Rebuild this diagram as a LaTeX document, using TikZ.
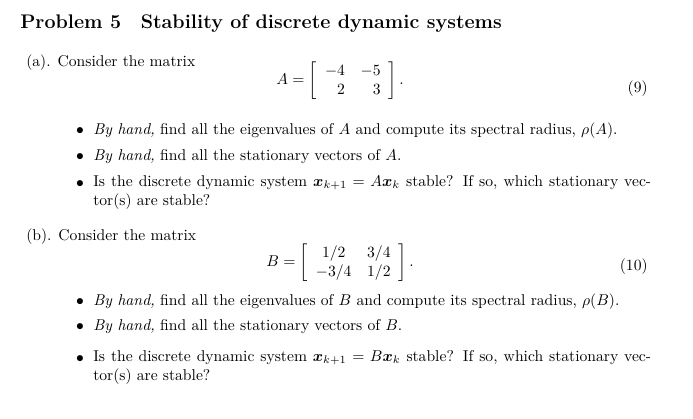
\documentclass[tikz,border=0pt]{standalone}
\usepackage{amsmath,amssymb,bm}
\begin{document}
\begin{tikzpicture}[x=0.64pt,y=-0.64pt,
  txt/.style={anchor=base west,inner sep=0pt},
  bul/.style={anchor=base,inner sep=0pt},
  para/.style={anchor=north west,inner sep=0pt,text width=357pt,align=justify}]
\useasboundingbox (0,0) rectangle (693,418);
\node[txt] (title) at (20,28) {\fontsize{12.6}{15}\selectfont\bfseries Problem 5\quad Stability of discrete dynamic systems};
\node[txt] (a) at (26,66) {(a). Consider the matrix};
\node (eqa) at (340,81) {$A=\left[\begin{array}{rr}-4&-5\\2&3\end{array}\right].$};
\node[txt,anchor=base east] (na) at (648,92) {(9)};
\node[bul] (b1) at (80,134) {$\bullet$};
\node[txt] (t1) at (93,134) {\emph{By hand,} find all the eigenvalues of $A$ and compute its spectral radius, $\rho(A)$.};
\node[bul] (b2) at (80,160) {$\bullet$};
\node[txt] (t2) at (93,160) {\emph{By hand,} find all the stationary vectors of $A$.};
\node[bul] (b3) at (80,187) {$\bullet$};
\node[para] (t3) at (93,175) {Is the discrete dynamic system $\bm{x}_{k+1}=A\bm{x}_k$ stable? If so, which stationary vector(s) are stable?};
\node[txt] (b) at (26,240) {(b). Consider the matrix};
\node (eqb) at (340,263) {$B=\left[\begin{array}{cc}1/2&3/4\\-3/4&1/2\end{array}\right].$};
\node[txt,anchor=base east] (nb) at (648,270) {(10)};
\node[bul] (c1) at (80,305) {$\bullet$};
\node[txt] (u1) at (93,305) {\emph{By hand,} find all the eigenvalues of $B$ and compute its spectral radius, $\rho(B)$.};
\node[bul] (c2) at (80,330) {$\bullet$};
\node[txt] (u2) at (93,330) {\emph{By hand,} find all the stationary vectors of $B$.};
\node[bul] (c3) at (80,362) {$\bullet$};
\node[para] (u3) at (93,350) {Is the discrete dynamic system $\bm{x}_{k+1}=B\bm{x}_k$ stable? If so, which stationary vector(s) are stable?};
\end{tikzpicture}
\end{document}
